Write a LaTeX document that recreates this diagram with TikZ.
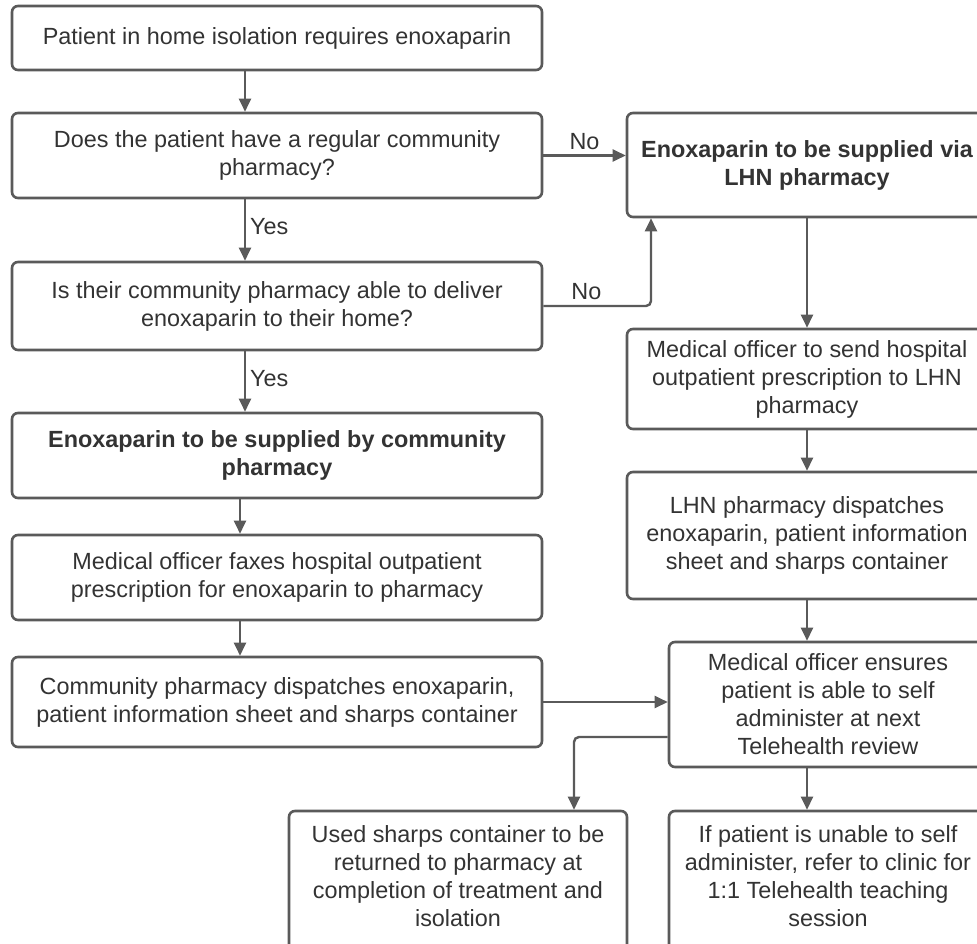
\documentclass[tikz,border=0pt]{standalone}
\usepackage{fontspec}
\setmainfont{Liberation Sans}
\usetikzlibrary{arrows.meta}
\definecolor{ln}{HTML}{5A5A5A}
\definecolor{tx}{HTML}{333333}
\begin{document}
\begin{tikzpicture}[x=1pt,y=-1pt,
 box/.style={draw=ln, line width=2.6pt, rounded corners=6pt, fill=white, align=center, text=tx, font=\fontsize{23.4}{28}\selectfont, inner sep=0pt},
 bbox/.style={box, font=\fontsize{23.4}{28}\selectfont\bfseries},
 arr/.style={draw=ln, line width=2.4pt, -{Triangle[length=13pt,width=12pt]}, rounded corners=5pt},
 lbl/.style={text=tx, font=\fontsize{23.4}{28}\selectfont, inner sep=0pt}]
\useasboundingbox (0,0) rectangle (977,944);
\clip (0,0) rectangle (977,944);

\node[box, minimum width=530pt, minimum height=64pt] (L1) at (277,38) {Patient in home isolation requires enoxaparin};
\node[box, minimum width=530pt, minimum height=85pt] (L2) at (277,155.5) {Does the patient have a regular community\\pharmacy?};
\node[box, minimum width=530pt, minimum height=88pt] (L3) at (277,306) {Is their community pharmacy able to deliver\\enoxaparin to their home?};
\node[bbox, minimum width=530pt, minimum height=85pt] (L4) at (277,455.5) {Enoxaparin to be supplied by community\\pharmacy};
\node[box, minimum width=530pt, minimum height=85pt] (L5) at (277,577.5) {Medical officer faxes hospital outpatient\\prescription for enoxaparin to pharmacy};
\node[box, minimum width=530pt, minimum height=90pt] (L6) at (277,702) {Community pharmacy dispatches enoxaparin,\\patient information sheet and sharps container};

\node[bbox, minimum width=360pt, minimum height=104pt] (R1) at (807,165) {Enoxaparin to be supplied via\\LHN pharmacy};
\node[box, minimum width=360pt, minimum height=100pt] (R2) at (807,379) {Medical officer to send hospital\\outpatient prescription to LHN\\pharmacy};
\node[box, minimum width=360pt, minimum height=127pt] (R3) at (807,535.5) {LHN pharmacy dispatches\\enoxaparin, patient information\\sheet and sharps container};
\node[box, minimum width=318pt, minimum height=125pt] (R4) at (828,704.5) {Medical officer ensures\\patient is able to self\\administer at next\\Telehealth review};

\node[box, minimum width=338pt, minimum height=166pt] (B1) at (458,894) {Used sharps container to be\\returned to pharmacy at\\completion of treatment and\\isolation\\\strut};
\node[box, minimum width=318pt, minimum height=166pt] (B2) at (828,894) {If patient is unable to self\\administer, refer to clinic for\\1:1 Telehealth teaching\\session\\\strut};

\coordinate (cx) at (245,0);
\coordinate (cl) at (240,0);
\coordinate (cr) at (651,0);
\coordinate (rc) at (807,0);
\coordinate (cb) at (574,0);
\coordinate (by) at (0,737);

\draw[arr] (L1.south -| cx) -- (L2.north -| cx);
\draw[arr] (L2.south -| cx) -- node[lbl, right=4pt, pos=0.45] {Yes} (L3.north -| cx);
\draw[arr] (L3.south -| cx) -- node[lbl, right=4pt, pos=0.45] {Yes} (L4.north -| cx);
\draw[arr] (L4.south -| cl) -- (L5.north -| cl);
\draw[arr] (L5.south -| cl) -- (L6.north -| cl);

\draw[arr] (L2.east) -- node[lbl, above=5pt, pos=0.5] {No} (L2.east -| R1.west);
\draw[arr] (L3.east) -- node[lbl, above=5pt, pos=0.4] {No} (L3.east -| cr) -- (R1.south -| cr);

\draw[arr] (R1.south -| rc) -- (R2.north -| rc);
\draw[arr] (R2.south -| rc) -- (R3.north -| rc);
\draw[arr] (R3.south -| rc) -- (R4.north -| rc);
\draw[arr] (L6.east) -- (L6.east -| R4.west);
\draw[arr] (R4.west |- by) -- (cb |- by) -- (B1.north -| cb);
\draw[arr] (R4.south -| rc) -- (B2.north -| rc);
\end{tikzpicture}
\end{document}
